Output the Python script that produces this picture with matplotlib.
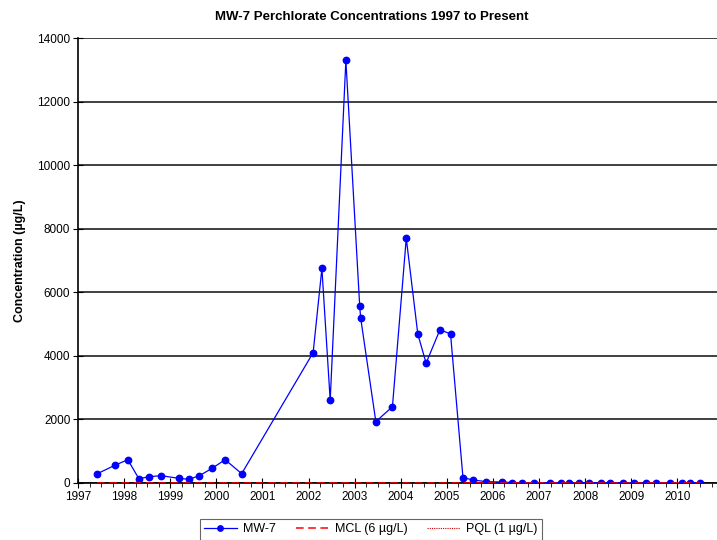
import matplotlib
matplotlib.use("Agg")
import matplotlib.pyplot as plt
from matplotlib.ticker import MultipleLocator

plt.rcParams['font.family'] = ['Liberation Sans', 'DejaVu Sans']

# sample dates (decimal years) and perchlorate results (ug/L) for MW-7
dates = [1997.42, 1997.80, 1998.08, 1998.32, 1998.55, 1998.80, 1999.18, 1999.40,
         1999.62, 1999.91, 2000.19, 2000.55, 2002.10, 2002.29, 2002.47, 2002.81,
         2003.11, 2003.13, 2003.46, 2003.82, 2004.12, 2004.37, 2004.55, 2004.85,
         2005.08, 2005.35, 2005.57, 2005.86, 2006.20, 2006.42, 2006.62, 2006.88,
         2007.23, 2007.48, 2007.66, 2007.86, 2008.08, 2008.34, 2008.54, 2008.82,
         2009.07, 2009.33, 2009.54, 2009.85, 2010.09, 2010.28, 2010.50]
mw7 = [293, 557, 733, 135, 198, 230, 148, 116,
       220, 462, 733, 293, 4100, 6750, 2600, 13300,
       5570, 5200, 1930, 2400, 7700, 4690, 3770, 4820,
       4690, 167, 95, 40, 30, 12, 10, 8,
       8, 6, 8, 6, 7, 6, 5, 6,
       5, 6, 5, 5, 6, 5, 5]
mcl = [6] * len(dates)
pql = [1] * len(dates)

fig = plt.figure(figsize=(7.17, 5.4), dpi=100)
ax = fig.add_axes([0.1088, 0.1056, 0.8912, 0.824])

ax.plot(dates, mw7, color='#0000FF', lw=0.9, marker='o', ms=4.6, label='MW-7', zorder=4)
ax.plot(dates, mcl, color='#FF0000', lw=1.1, ls=(0, (5, 3)), label='MCL (6 µg/L)', zorder=5)
ax.plot(dates, pql, color='#CC0000', lw=0.8, ls=(0, (1, 1)), label='PQL (1 µg/L)', zorder=5)

ax.set_xlim(1997, 2010.86)
ax.set_ylim(0, 14000)
ax.xaxis.set_major_locator(MultipleLocator(1))
ax.xaxis.set_minor_locator(MultipleLocator(0.25))
ax.yaxis.set_major_locator(MultipleLocator(2000))
ax.xaxis.set_major_formatter(plt.FuncFormatter(lambda v, p: '%d' % round(v)))
ax.tick_params(axis='x', which='major', direction='inout', length=7, labelsize=8.5, pad=2)
ax.tick_params(axis='x', which='minor', direction='out', length=3)
ax.tick_params(axis='y', direction='inout', length=7, labelsize=8.5, pad=2)

ax.grid(axis='y', color='#202020', lw=1.2)
ax.set_axisbelow(True)
for s in ['top', 'right']:
    ax.spines[s].set_visible(False)
ax.spines['left'].set_linewidth(1.2)
ax.spines['bottom'].set_linewidth(1.2)

ax.set_ylabel('Concentration (µg/L)', fontsize=9, fontweight='bold', labelpad=8)
fig.text(0.519, 0.969, 'MW-7 Perchlorate Concentrations 1997 to Present',
         ha='center', va='center', fontsize=9.5, fontweight='bold')

leg = fig.legend(loc='upper center', bbox_to_anchor=(0.517, 0.039), ncol=3, fontsize=9,
                 frameon=True, fancybox=False, edgecolor='#404040',
                 handlelength=2.6, columnspacing=1.6, handletextpad=0.5,
                 borderpad=0.35, markerscale=0.85, borderaxespad=0)
leg.get_frame().set_linewidth(0.8)

fig.savefig('out.png', dpi=100)
